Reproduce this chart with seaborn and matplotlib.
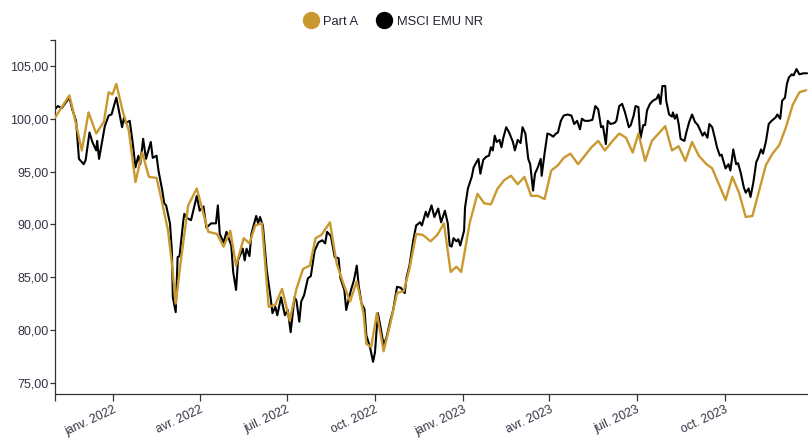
import matplotlib
matplotlib.use("Agg")
import matplotlib.pyplot as plt
from matplotlib.lines import Line2D
import seaborn as sns
import pandas as pd

# ---------------- data ----------------
part_a_dates = [
    "2021-11-01", "2021-11-16", "2021-11-19", "2021-11-29", "2021-12-06", "2021-12-14",
    "2021-12-22", "2021-12-27", "2021-12-31", "2022-01-04", "2022-01-11", "2022-01-17",
    "2022-01-24", "2022-01-31", "2022-02-07", "2022-02-15", "2022-02-20", "2022-02-27",
    "2022-03-03", "2022-03-07", "2022-03-12", "2022-03-20", "2022-03-29", "2022-04-05",
    "2022-04-10", "2022-04-19", "2022-04-26", "2022-05-03", "2022-05-09", "2022-05-17",
    "2022-05-23", "2022-05-29", "2022-06-05", "2022-06-12", "2022-06-19", "2022-06-26",
    "2022-07-04", "2022-07-11", "2022-07-18", "2022-07-25", "2022-07-31", "2022-08-06",
    "2022-08-15", "2022-08-22", "2022-08-29", "2022-09-05", "2022-09-12", "2022-09-19",
    "2022-09-22", "2022-09-27", "2022-10-03", "2022-10-10", "2022-10-17", "2022-10-24",
    "2022-10-31", "2022-11-06", "2022-11-13", "2022-11-20", "2022-11-28", "2022-12-05",
    "2022-12-12", "2022-12-19", "2022-12-25", "2022-12-30", "2023-01-08", "2023-01-16",
    "2023-01-23", "2023-01-30", "2023-02-06", "2023-02-13", "2023-02-20", "2023-02-27",
    "2023-03-06", "2023-03-13", "2023-03-20", "2023-03-27", "2023-04-03", "2023-04-10",
    "2023-04-16", "2023-04-23", "2023-05-01", "2023-05-08", "2023-05-15", "2023-05-22",
    "2023-05-29", "2023-06-06", "2023-06-13", "2023-06-20", "2023-06-27", "2023-07-03",
    "2023-07-10", "2023-07-17", "2023-07-24", "2023-07-31", "2023-08-07", "2023-08-14",
    "2023-08-21", "2023-08-28", "2023-09-04", "2023-09-12", "2023-09-18", "2023-09-25",
    "2023-10-02", "2023-10-09", "2023-10-16", "2023-10-23", "2023-10-30", "2023-11-06",
    "2023-11-13", "2023-11-20", "2023-11-27", "2023-12-04", "2023-12-11", "2023-12-18",
    "2023-12-25",
]
part_a_values = [
    100.1, 102.2, 101.1, 97.0, 100.6, 98.6,
    99.7, 102.5, 102.3, 103.3, 100.6, 98.9,
    94.0, 96.8, 94.5, 94.4, 92.4, 89.4,
    86.3, 82.5, 86.3, 91.8, 93.4, 91.0,
    89.3, 89.1, 87.9, 89.4, 86.1, 88.7,
    88.2, 89.9, 90.1, 82.2, 82.4, 83.9,
    80.9, 83.9, 85.8, 86.1, 88.7, 89.0,
    90.2, 86.3, 84.4, 82.7, 84.6, 81.6,
    78.7, 78.4, 81.6, 78.0, 80.6, 83.5,
    83.7, 85.8, 89.1, 89.0, 88.4, 89.0,
    90.1, 85.5, 86.0, 85.5, 90.2, 92.9,
    92.0, 91.9, 93.4, 94.2, 94.6, 93.8,
    94.5, 92.7, 92.7, 92.4, 95.1, 95.6,
    96.3, 96.7, 95.7, 96.5, 97.3, 97.9,
    97.0, 97.9, 98.6, 98.2, 96.8, 98.6,
    96.0, 97.9, 98.6, 99.3, 97.0, 97.4,
    96.0, 97.8, 96.5, 95.7, 95.3, 93.8,
    92.3, 94.5, 93.0, 90.7, 90.8, 93.2,
    95.6, 96.7, 97.5, 99.2, 101.3, 102.5,
    102.7,
]

msci_dates = [
    "2021-11-01", "2021-11-04", "2021-11-08", "2021-11-16", "2021-11-19", "2021-11-23",
    "2021-11-26", "2021-12-01", "2021-12-03", "2021-12-07", "2021-12-10", "2021-12-14",
    "2021-12-15", "2021-12-17", "2021-12-23", "2021-12-27", "2021-12-30", "2022-01-04",
    "2022-01-06", "2022-01-10", "2022-01-12", "2022-01-14", "2022-01-18", "2022-01-21",
    "2022-01-24", "2022-01-27", "2022-01-29", "2022-02-01", "2022-02-04", "2022-02-09",
    "2022-02-11", "2022-02-15", "2022-02-17", "2022-02-21", "2022-02-23", "2022-02-25",
    "2022-03-01", "2022-03-03", "2022-03-04", "2022-03-07", "2022-03-09", "2022-03-11",
    "2022-03-15", "2022-03-16", "2022-03-19", "2022-03-23", "2022-03-29", "2022-04-01",
    "2022-04-05", "2022-04-08", "2022-04-13", "2022-04-18", "2022-04-20", "2022-04-22",
    "2022-04-26", "2022-04-29", "2022-05-04", "2022-05-06", "2022-05-09", "2022-05-11",
    "2022-05-16", "2022-05-18", "2022-05-20", "2022-05-23", "2022-05-25", "2022-05-30",
    "2022-06-01", "2022-06-03", "2022-06-06", "2022-06-10", "2022-06-14", "2022-06-16",
    "2022-06-19", "2022-06-21", "2022-06-25", "2022-06-29", "2022-07-02", "2022-07-05",
    "2022-07-09", "2022-07-11", "2022-07-14", "2022-07-16", "2022-07-19", "2022-07-23",
    "2022-07-26", "2022-07-30", "2022-08-03", "2022-08-07", "2022-08-10", "2022-08-12",
    "2022-08-16", "2022-08-20", "2022-08-24", "2022-08-26", "2022-08-30", "2022-09-01",
    "2022-09-04", "2022-09-06", "2022-09-09", "2022-09-12", "2022-09-14", "2022-09-17",
    "2022-09-20", "2022-09-22", "2022-09-26", "2022-09-29", "2022-10-01", "2022-10-04",
    "2022-10-06", "2022-10-10", "2022-10-13", "2022-10-17", "2022-10-20", "2022-10-24",
    "2022-10-28", "2022-11-01", "2022-11-03", "2022-11-06", "2022-11-10", "2022-11-13",
    "2022-11-17", "2022-11-19", "2022-11-23", "2022-11-25", "2022-11-29", "2022-12-02",
    "2022-12-06", "2022-12-09", "2022-12-13", "2022-12-16", "2022-12-18", "2022-12-20",
    "2022-12-22", "2022-12-25", "2022-12-27", "2022-12-29", "2023-01-02", "2023-01-03",
    "2023-01-06", "2023-01-10", "2023-01-12", "2023-01-15", "2023-01-17", "2023-01-19",
    "2023-01-22", "2023-01-25", "2023-01-28", "2023-01-30", "2023-02-01", "2023-02-03",
    "2023-02-05", "2023-02-08", "2023-02-10", "2023-02-12", "2023-02-15", "2023-02-18",
    "2023-02-22", "2023-02-24", "2023-02-27", "2023-03-02", "2023-03-04", "2023-03-07",
    "2023-03-10", "2023-03-12", "2023-03-15", "2023-03-17", "2023-03-20", "2023-03-23",
    "2023-03-24", "2023-03-27", "2023-03-30", "2023-04-02", "2023-04-05", "2023-04-08",
    "2023-04-10", "2023-04-13", "2023-04-16", "2023-04-20", "2023-04-24", "2023-04-27",
    "2023-04-30", "2023-05-03", "2023-05-05", "2023-05-08", "2023-05-12", "2023-05-16",
    "2023-05-19", "2023-05-22", "2023-05-25", "2023-05-27", "2023-05-30", "2023-06-01",
    "2023-06-04", "2023-06-08", "2023-06-10", "2023-06-13", "2023-06-16", "2023-06-19",
    "2023-06-23", "2023-06-25", "2023-06-28", "2023-06-30", "2023-07-03", "2023-07-05",
    "2023-07-08", "2023-07-10", "2023-07-12", "2023-07-15", "2023-07-18", "2023-07-22",
    "2023-07-24", "2023-07-26", "2023-07-28", "2023-07-31", "2023-08-01", "2023-08-04",
    "2023-08-07", "2023-08-08", "2023-08-10", "2023-08-12", "2023-08-14", "2023-08-16",
    "2023-08-20", "2023-08-22", "2023-08-25", "2023-08-28", "2023-08-31", "2023-09-03",
    "2023-09-05", "2023-09-08", "2023-09-10", "2023-09-13", "2023-09-15", "2023-09-18",
    "2023-09-21", "2023-09-23", "2023-09-26", "2023-09-28", "2023-09-29", "2023-10-02",
    "2023-10-05", "2023-10-07", "2023-10-10", "2023-10-13", "2023-10-15", "2023-10-18",
    "2023-10-21", "2023-10-23", "2023-10-26", "2023-10-28", "2023-10-31", "2023-11-03",
    "2023-11-05", "2023-11-08", "2023-11-10", "2023-11-13", "2023-11-16", "2023-11-19",
    "2023-11-23", "2023-11-25", "2023-11-28", "2023-11-30", "2023-12-03", "2023-12-05",
    "2023-12-07", "2023-12-10", "2023-12-12", "2023-12-15", "2023-12-18", "2023-12-22",
    "2023-12-26",
]
msci_values = [
    100.9, 101.2, 101.0, 102.0, 100.9, 99.8,
    96.2, 95.7, 96.1, 98.7, 97.8, 97.0,
    97.9, 96.2, 99.3, 100.3, 100.4, 102.0,
    101.1, 99.2, 100.1, 99.6, 99.8, 97.8,
    95.4, 96.5, 95.7, 98.1, 96.2, 97.8,
    96.3, 96.5, 95.1, 93.2, 92.0, 91.8,
    90.1, 87.5, 83.1, 81.7, 86.9, 87.0,
    90.4, 91.0, 90.6, 90.4, 92.7, 91.3,
    91.7, 89.7, 90.1, 90.1, 91.8, 89.1,
    88.3, 89.3, 88.0, 85.5, 83.8, 86.6,
    87.7, 86.6, 87.7, 87.0, 89.1, 90.8,
    90.1, 90.7, 89.9, 85.7, 83.1, 81.6,
    82.2, 81.4, 83.1, 81.4, 81.9, 79.8,
    83.1, 82.8, 80.8, 82.7, 83.3, 84.9,
    85.1, 87.5, 88.3, 88.5, 88.2, 89.3,
    88.9, 86.9, 86.8, 84.9, 83.8, 81.9,
    83.1, 83.8, 84.7, 86.1, 84.2, 82.5,
    82.0, 79.5, 78.3, 77.0, 77.9, 81.6,
    80.7, 78.6, 79.3, 80.9, 81.9, 84.1,
    84.0, 83.5, 85.0, 86.1, 88.5, 89.9,
    90.2, 89.9, 91.2, 90.7, 91.8, 90.7,
    91.5, 90.2, 91.3, 90.1, 88.0, 87.9,
    88.7, 88.4, 88.6, 88.0, 89.4, 91.6,
    93.4, 94.5, 95.4, 95.9, 96.2, 94.8,
    96.1, 96.4, 96.5, 97.3, 97.0, 98.4,
    97.8, 98.0, 97.3, 98.2, 99.2, 98.7,
    97.8, 97.0, 98.0, 97.7, 99.2, 98.6,
    96.2, 95.7, 93.2, 94.8, 95.4, 96.2,
    94.6, 96.7, 98.6, 98.5, 98.3, 98.6,
    98.7, 99.8, 100.3, 100.4, 100.3, 99.5,
    99.8, 99.0, 100.0, 99.8, 99.8, 99.9,
    101.2, 100.9, 99.2, 99.3, 97.6, 99.8,
    99.5, 99.6, 99.8, 101.2, 101.4, 100.6,
    99.2, 99.4, 100.3, 101.2, 101.1, 98.1,
    99.4, 99.4, 100.8, 101.4, 101.7, 101.9,
    102.3, 101.4, 103.1, 103.1, 101.7, 100.4,
    100.2, 100.6, 100.0, 100.4, 99.5, 98.1,
    97.9, 98.7, 99.7, 100.4, 99.7, 99.4,
    99.0, 98.4, 98.7, 98.2, 99.5, 99.2,
    98.1, 97.3, 96.5, 96.6, 96.2, 95.3,
    95.7, 95.1, 97.1, 95.7, 95.8, 94.8,
    93.5, 93.0, 93.4, 92.6, 94.0, 95.9,
    96.3, 97.1, 96.7, 97.8, 99.5, 99.8,
    100.1, 100.4, 100.0, 101.7, 102.0, 103.3,
    103.9, 104.2, 104.1, 104.7, 104.2, 104.3,
    104.3,
]

series_names = ["Part A", "MSCI EMU NR"]
series_colors = ["#C9992F", "#000000"]

x_tick_dates = ["2022-01-01", "2022-04-01", "2022-07-01", "2022-10-01",
                "2023-01-01", "2023-04-01", "2023-07-01", "2023-10-01"]
x_tick_labels = ["janv. 2022", "avr. 2022", "juil. 2022", "oct. 2022",
                 "janv. 2023", "avr. 2023", "juil. 2023", "oct. 2023"]
y_ticks = [75, 80, 85, 90, 95, 100, 105]

# ---------------- plotting ----------------
sns.set_style("white")
plt.rcParams["font.family"] = ["Liberation Sans", "DejaVu Sans"]

df_a = pd.DataFrame({"date": pd.to_datetime(part_a_dates), "value": part_a_values})
df_m = pd.DataFrame({"date": pd.to_datetime(msci_dates), "value": msci_values})

W, H = 808, 438
fig = plt.figure(figsize=(W / 100, H / 100), dpi=100)
ax = fig.add_axes([55 / W, 44.5 / H, 753 / W, 353.5 / H])

sns.lineplot(data=df_m, x="date", y="value", ax=ax, color=series_colors[1],
             linewidth=1.5, zorder=2)
sns.lineplot(data=df_a, x="date", y="value", ax=ax, color=series_colors[0],
             linewidth=1.7, zorder=3)

x_start = pd.Timestamp("2021-11-01")
x_end = pd.Timestamp("2023-12-27")
y_lo, y_hi = 74.0, 107.45
ax.set_xlim(x_start, x_end)
ax.set_ylim(y_lo, y_hi)

ax.set_xticks(pd.to_datetime(x_tick_dates))
ax.set_xticklabels(x_tick_labels, rotation=25, ha="right", va="top",
                   rotation_mode="anchor")
ax.set_yticks(y_ticks)
ax.set_yticklabels([f"{v:.2f}".replace(".", ",") for v in y_ticks])
ax.set_xticks([x_start], minor=True)
ax.set_yticks([y_hi], minor=True)

ax.tick_params(axis="x", which="both", direction="out", length=5, width=0.9,
               color="#333333", labelsize=8.7, labelcolor="#333344", bottom=True, pad=2.5)
ax.tick_params(axis="y", which="both", direction="out", length=3.6, width=0.9,
               color="#333333", labelsize=9, labelcolor="#333344", left=True, pad=1.2)

for side in ["top", "right"]:
    ax.spines[side].set_visible(False)
for side in ["left", "bottom"]:
    ax.spines[side].set_color("#333333")
    ax.spines[side].set_linewidth(0.9)

ax.set_xlabel("")
ax.set_ylabel("")
ax.grid(False)

handles = [Line2D([0], [0], marker="o", linestyle="none", markersize=11.5,
                  markerfacecolor=c, markeredgecolor=c) for c in series_colors]
fig.legend(handles, series_names, loc="center", bbox_to_anchor=(393 / W, 1 - 22 / H),
           ncol=2, frameon=False, fontsize=9.3, handletextpad=0.35, columnspacing=1.4,
           handlelength=1.2, labelcolor="#222233")

fig.savefig("out.png", dpi=100)
